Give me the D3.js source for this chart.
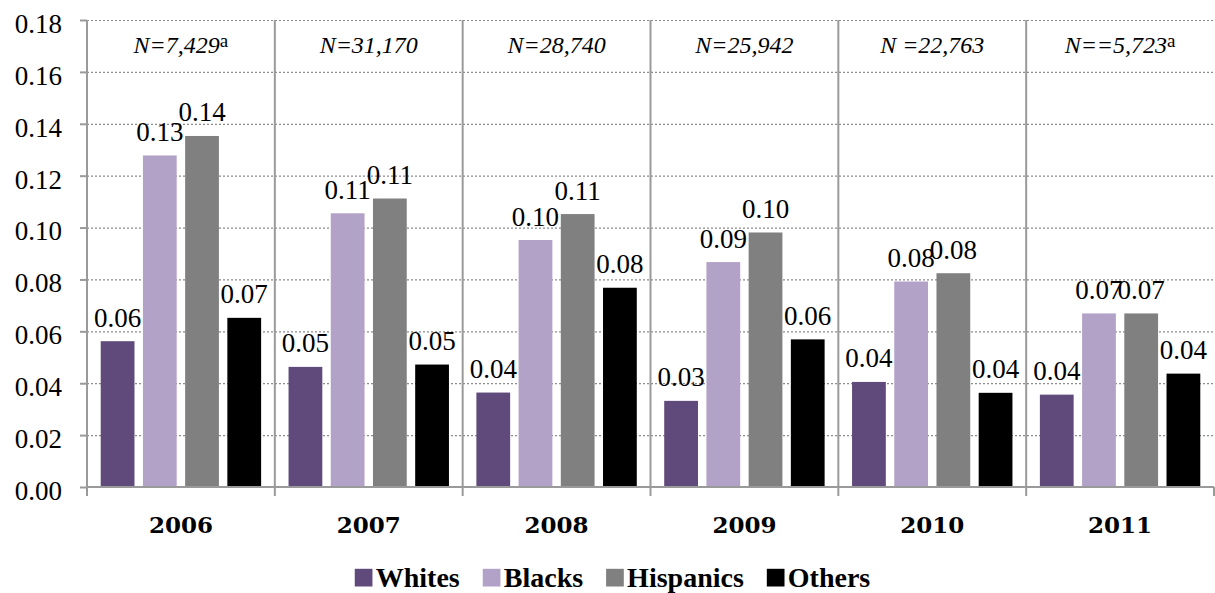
<!DOCTYPE html>
<html>
<head>
<meta charset="utf-8">
<script src="https://cdn.jsdelivr.net/npm/d3@7"></script>
<style>
  html, body { margin: 0; padding: 0; background: #fff; }
  svg { display: block; }
  text { font-family: "Liberation Serif", serif; fill: #000; }
</style>
</head>
<body>
<svg id="chart" width="1215" height="593"></svg>
<script>
// Annual rates by group
const years = ["2006", "2007", "2008", "2009", "2010", "2011"];
const groups = ["Whites", "Blacks", "Hispanics", "Others"];
const whites    = [0.0562, 0.0463, 0.0364, 0.0332, 0.0405, 0.0356];
const blacks    = [0.1278, 0.1055, 0.0952, 0.0867, 0.0792, 0.0669];
const hispanics = [0.1353, 0.1112, 0.1052, 0.0981, 0.0824, 0.0669];
const others    = [0.0652, 0.0472, 0.0768, 0.0569, 0.0363, 0.0437];
const sampleLabels = ["N=7,429", "N=31,170", "N=28,740", "N=25,942", "N =22,763", "N==5,723"];
const sampleNotes  = ["a", "", "", "", "", "a"];
const yTicks = [0, 0.02, 0.04, 0.06, 0.08, 0.10, 0.12, 0.14, 0.16, 0.18];
const colors = ["#604a7b", "#b3a2c7", "#808080", "#000000"];

const seriesValues = [whites, blacks, hispanics, others];
const rows = years.map((yr, i) => ({ year: yr, values: groups.map((g, k) => ({ group: g, value: seriesValues[k][i] })) }));

const svg = d3.select("#chart");
const margin = { left: 87, right: 1, top: 20, bottom: 106 };
const W = 1215, H = 593;
const plotW = W - margin.left - margin.right;
const plotH = H - margin.top - margin.bottom;

const g = svg.append("g").attr("transform", `translate(${margin.left},${margin.top})`);

const x = d3.scaleBand().domain(years).range([0, plotW]).padding(0);
const cw = x.bandwidth();
const xInner = d3.scaleBand().domain(groups).range([cw * 0.073, cw * 0.927]).paddingInner(0.2).paddingOuter(0);
const y = d3.scaleLinear().domain([0, 0.18]).range([plotH, 0]);
const color = d3.scaleOrdinal().domain(groups).range(colors);

// dotted horizontal gridlines
g.append("g")
  .attr("class", "grid")
  .call(d3.axisLeft(y).tickValues(yTicks.slice(1)).tickSize(-plotW).tickFormat(""))
  .call(s => s.select(".domain").remove())
  .call(s => s.selectAll("line").attr("stroke", "#8c8c8c").attr("stroke-width", 1.2).attr("stroke-dasharray", "2,2"));

// solid category separators
const bounds = years.map(yr => x(yr)).concat([plotW]);
g.append("g").selectAll("line.sep")
  .data(bounds.slice(1, -1))
  .join("line")
  .attr("x1", d => d).attr("x2", d => d)
  .attr("y1", 0).attr("y2", plotH + 9)
  .attr("stroke", "#9a9a9a").attr("stroke-width", 2);

// ticks below the baseline at the outer boundaries
g.append("g").selectAll("line.tk")
  .data([bounds[0], bounds[bounds.length - 1]])
  .join("line")
  .attr("x1", d => d).attr("x2", d => d)
  .attr("y1", plotH).attr("y2", plotH + 9)
  .attr("stroke", "#9a9a9a").attr("stroke-width", 2);

// y axis
const yAxis = g.append("g")
  .call(d3.axisLeft(y).tickValues(yTicks).tickSize(7).tickPadding(18).tickFormat(d3.format(".2f")));
yAxis.select(".domain").attr("stroke", "#9a9a9a").attr("stroke-width", 2).attr("d", `M0,0V${plotH + 9}`);
yAxis.selectAll(".tick line").attr("stroke", "#9a9a9a").attr("stroke-width", 2);
yAxis.selectAll(".tick text")
  .attr("dy", "0.46em")
  .style("font-family", "'Liberation Serif', serif")
  .style("font-size", "27px")
  .attr("fill", "#000");

// bars
const groupsG = g.append("g").selectAll("g.year")
  .data(rows)
  .join("g")
  .attr("transform", d => `translate(${x(d.year)},0)`);

groupsG.selectAll("rect")
  .data(d => d.values)
  .join("rect")
  .attr("x", d => xInner(d.group))
  .attr("y", d => y(d.value))
  .attr("width", xInner.bandwidth())
  .attr("height", d => plotH - y(d.value))
  .attr("fill", d => color(d.group));

// value labels
groupsG.selectAll("text.val")
  .data(d => d.values)
  .join("text")
  .attr("class", "val")
  .attr("x", d => xInner(d.group) + xInner.bandwidth() / 2)
  .attr("y", d => y(d.value) - 14.5)
  .attr("text-anchor", "middle")
  .style("font-size", "27px")
  .text(d => d.value.toFixed(2));

// x axis line
g.append("line")
  .attr("x1", 0).attr("x2", plotW)
  .attr("y1", plotH).attr("y2", plotH)
  .attr("stroke", "#9a9a9a").attr("stroke-width", 2);

// year labels
const xAxis = g.append("g")
  .attr("transform", `translate(0,${plotH})`)
  .call(d3.axisBottom(x).tickSize(0).tickPadding(0));
xAxis.select(".domain").remove();
xAxis.selectAll(".tick text")
  .attr("y", 45.5).attr("dy", 0)
  .style("font-family", "'DejaVu Serif', serif")
  .style("font-size", "23px")
  .style("font-weight", "bold")
  .attr("fill", "#000");

// sample size notes in each panel
const nText = g.append("g").selectAll("text.n")
  .data(years)
  .join("text")
  .attr("class", "n")
  .attr("x", d => x(d) + cw / 2)
  .attr("y", 33)
  .attr("text-anchor", "middle")
  .style("font-size", "24px");
nText.append("tspan")
  .style("font-style", "italic")
  .text((d, i) => sampleLabels[i]);
nText.append("tspan")
  .style("font-size", "19px")
  .attr("dy", -6)
  .text((d, i) => sampleNotes[i]);

// legend
const legend = svg.append("g");
const items = legend.selectAll("g.item").data(groups).join("g");
items.append("rect")
  .attr("width", 17.7).attr("height", 17.7)
  .attr("y", -17.7)
  .attr("fill", d => color(d));
items.append("text")
  .attr("x", 21)
  .attr("y", 0)
  .style("font-size", "28px")
  .style("font-weight", "bold")
  .text(d => d);
let offset = 0;
items.each(function () {
  const item = d3.select(this);
  item.attr("transform", `translate(${offset},0)`);
  offset += 21 + item.select("text").node().getComputedTextLength() + 23;
});
const legendW = offset - 23;
legend.attr("transform", `translate(${612.5 - legendW / 2},586.5)`);
</script>
</body>
</html>
